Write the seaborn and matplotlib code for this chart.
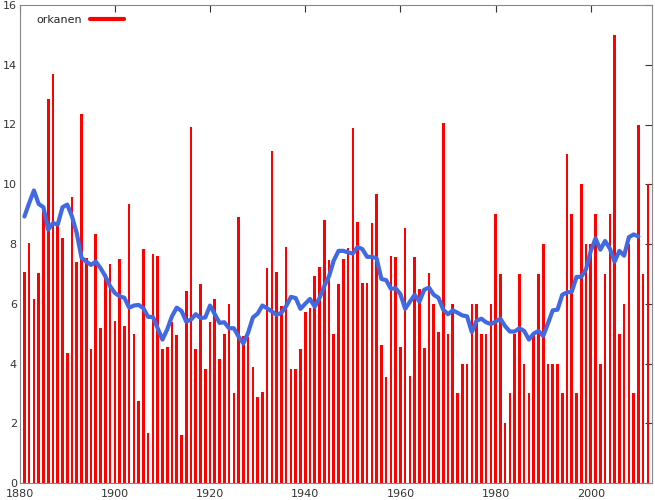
import numpy as np
import pandas as pd
import matplotlib
matplotlib.use("Agg")
import matplotlib.pyplot as plt
import seaborn as sns

years = list(range(1880, 2013))
counts = [
 12.0, 7.07, 8.05, 6.16, 7.03, 9.1, 12.84, 13.7, 8.6, 8.2,
 4.36, 9.57, 7.41, 12.35, 7.52, 4.47, 8.32, 5.2, 7.0, 7.34,
 5.43, 7.5, 5.27, 9.34, 4.98, 2.74, 7.83, 1.69, 7.65, 7.6,
 4.49, 4.56, 5.38, 4.96, 1.62, 6.43, 11.9, 4.47, 6.67, 3.83,
 5.38, 6.16, 4.16, 5.0, 5.98, 3.0, 8.9, 4.92, 4.9, 3.87,
 2.89, 3.03, 7.21, 11.1, 7.07, 5.92, 7.9, 3.83, 3.8, 4.47,
 5.74, 5.85, 6.92, 7.23, 8.81, 7.45, 5.0, 6.67, 7.5, 7.85,
 11.88, 8.74, 6.7, 6.7, 8.7, 9.66, 4.63, 3.56, 7.59, 7.57,
 4.56, 8.52, 3.58, 7.57, 6.5, 4.52, 7.03, 6.0, 5.05, 12.04,
 5, 6, 3, 4, 4, 6, 6, 5, 5, 6,
 9, 7, 2, 3, 5, 7, 4, 3, 5, 7,
 8, 4, 4, 4, 3, 11, 9, 3, 10, 8,
 8, 9, 4, 7, 9, 15, 5, 6, 8, 3,
 12, 7, 10]

smooth_years = list(range(1881, 2011))
smooth = [
 8.92, 9.37, 9.79, 9.34, 9.23, 8.48, 8.7, 8.65, 9.23,
 9.32, 8.92, 8.36, 7.54, 7.41, 7.3, 7.41, 7.19, 6.92, 6.59,
 6.36, 6.25, 6.2, 5.87, 5.94, 5.96, 5.85, 5.56, 5.56, 5.18,
 4.8, 5.14, 5.58, 5.87, 5.76, 5.4, 5.47, 5.65, 5.52, 5.54,
 5.94, 5.65, 5.36, 5.38, 5.18, 5.18, 4.9, 4.67, 5.03, 5.54,
 5.67, 5.94, 5.85, 5.74, 5.63, 5.7, 5.92, 6.23, 6.19, 5.83,
 6.0, 6.16, 5.9, 6.19, 6.59, 6.92, 7.45, 7.77, 7.77, 7.72,
 7.68, 7.9, 7.83, 7.57, 7.57, 7.52, 6.83, 6.79, 6.5, 6.52,
 6.32, 5.83, 6.07, 6.3, 6.07, 6.47, 6.54, 6.3, 6.2, 5.8,
 5.65, 5.78, 5.7, 5.61, 5.58, 5.05, 5.43, 5.5, 5.38, 5.32,
 5.4, 5.5, 5.25, 5.07, 5.07, 5.18, 5.09, 4.8, 5.0, 5.09,
 4.92, 5.34, 5.78, 5.8, 6.3, 6.38, 6.4, 6.9, 6.9, 7.16,
 7.77, 8.19, 7.81, 8.1, 7.85, 7.41, 7.77, 7.61, 8.23, 8.32,
 8.25]

df = pd.DataFrame({"year": years, "count": counts})
ds = pd.DataFrame({"year": smooth_years, "avg": smooth})

sns.set_style("white")
plt.rcParams["font.family"] = ["DejaVu Sans"]
fig = plt.figure(figsize=(6.55, 5.0), dpi=100)
ax = fig.add_axes([0.03, 0.034, 0.965, 0.956])

sns.barplot(data=df, x="year", y="count", native_scale=True, color="red",
            saturation=1, width=0.55, ax=ax, linewidth=0)
sns.lineplot(data=ds, x="year", y="avg", color="royalblue", lw=3, ax=ax)

ax.set_xlim(1880, 2012.8)
ax.set_ylim(0, 16)
ax.set_xticks(range(1880, 2011, 20))
ax.set_yticks(range(0, 17, 2))
ax.tick_params(direction="in", labelsize=8, top=True, right=True, length=5,
               colors="#333333", pad=2)
ax.tick_params(axis="x", pad=4)
ax.set_xlabel("")
ax.set_ylabel("")
for s in ax.spines.values():
    s.set_color("#888888")
    s.set_linewidth(0.8)
from matplotlib.lines import Line2D
ax.legend([Line2D([0], [0], color="red", lw=3)], ["orkanen"], loc="upper left",
          frameon=False, fontsize=8, handlelength=3, markerfirst=False,
          bbox_to_anchor=(0.01, 1.0))
fig.savefig("out.png", dpi=100)
